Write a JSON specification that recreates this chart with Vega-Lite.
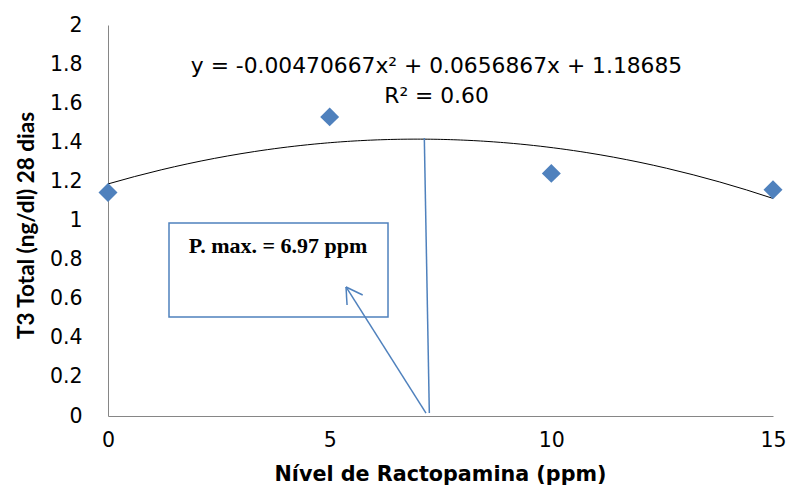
{
  "$schema": "https://vega.github.io/schema/vega-lite/v6.json",
  "width": 665,
  "height": 391,
  "autosize": {"type": "none"},
  "padding": {"left": 108, "top": 25, "right": 17, "bottom": 76},
  "background": "white",
  "config": {"view": {"stroke": null}, "axis": {"labelOverlap": false, "labelBound": false}},
  "datasets": {
    "points": [
      {"x": 0, "y": 1.143},
      {"x": 5, "y": 1.53},
      {"x": 10, "y": 1.241},
      {"x": 15, "y": 1.157}
    ],
    "segments": [
      {"x": 7.135, "y": 1.422, "x2": 7.248, "y2": 0.015},
      {"x": 7.173, "y": 0.015, "x2": 5.369, "y2": 0.66},
      {"x": 5.369, "y": 0.66, "x2": 5.392, "y2": 0.568},
      {"x": 5.369, "y": 0.66, "x2": 5.745, "y2": 0.619}
    ],
    "box": [
      {"x": 1.376, "x2": 6.316, "y": 0.987, "y2": 0.506}
    ],
    "labels": [
      {"x": 7.41, "y": 1.79, "label": "y = -0.00470667x² + 0.0656867x + 1.18685"},
      {"x": 7.41, "y": 1.637, "label": "R² = 0.60"}
    ],
    "boxlabel": [
      {"x": 3.835, "y": 0.87, "label": "P. max. = 6.97 ppm"}
    ]
  },
  "layer": [
    {
      "data": {"name": "box"},
      "mark": {"type": "rect", "fill": "white", "stroke": "#4F81BD", "strokeWidth": 1.5},
      "encoding": {
        "x": {
          "field": "x", "type": "quantitative",
          "scale": {"domain": [0, 15], "nice": false},
          "axis": {
            "values": [0, 5, 10, 15],
            "tickCount": 20,
            "grid": false, "ticks": false,
            "domainColor": "#868686", "domainWidth": 1,
            "labelFont": "DejaVu Sans", "labelFontSize": 20.5, "labelColor": "#000",
            "labelPadding": 14, "labelFlush": false, "labelOverlap": false,
            "title": "Nível de Ractopamina (ppm)",
            "titleFont": "DejaVu Sans", "titleFontSize": 20.7, "titleFontWeight": "bold", "titleColor": "#000",
            "titleX": 332, "titleY": 58, "titleBaseline": "middle", "titleAlign": "center"
          }
        },
        "x2": {"field": "x2"},
        "y": {
          "field": "y", "type": "quantitative",
          "scale": {"domain": [0, 2], "nice": false},
          "axis": {
            "values": [0, 0.2, 0.4, 0.6, 0.8, 1, 1.2, 1.4, 1.6, 1.8, 2],
            "tickCount": 20,
            "format": "~g",
            "grid": false, "ticks": false,
            "domainColor": "#868686", "domainWidth": 1,
            "labelFont": "DejaVu Sans", "labelFontSize": 20.5, "labelColor": "#000",
            "labelPadding": 26, "labelFlush": false, "labelOverlap": false,
            "title": "T3 Total (ng/dl) 28 dias",
            "titleFont": "Lato", "titleFontSize": 22.5, "titleFontWeight": "bold", "titleColor": "#000",
            "titleX": -82, "titleY": 200, "titleAngle": -90, "titleBaseline": "middle", "titleAlign": "center"
          }
        },
        "y2": {"field": "y2"}
      }
    },
    {
      "data": {"name": "points"},
      "transform": [
        {"regression": "y", "on": "x", "method": "poly", "order": 2, "extent": [0, 15]}
      ],
      "mark": {"type": "line", "color": "black", "strokeWidth": 1},
      "encoding": {
        "x": {"field": "x", "type": "quantitative"},
        "y": {"field": "y", "type": "quantitative"}
      }
    },
    {
      "data": {"name": "segments"},
      "mark": {"type": "rule", "color": "#4F81BD", "strokeWidth": 1.5},
      "encoding": {
        "x": {"field": "x", "type": "quantitative"},
        "y": {"field": "y", "type": "quantitative"},
        "x2": {"field": "x2"},
        "y2": {"field": "y2"}
      }
    },
    {
      "data": {"name": "points"},
      "mark": {"type": "point", "shape": "diamond", "filled": true, "color": "#4F81BD", "size": 360, "opacity": 1},
      "encoding": {
        "x": {"field": "x", "type": "quantitative"},
        "y": {"field": "y", "type": "quantitative"}
      }
    },
    {
      "data": {"name": "labels"},
      "mark": {"type": "text", "font": "DejaVu Sans", "fontSize": 21.8, "color": "#000", "align": "center", "baseline": "middle"},
      "encoding": {
        "x": {"field": "x", "type": "quantitative"},
        "y": {"field": "y", "type": "quantitative"},
        "text": {"field": "label"}
      }
    },
    {
      "data": {"name": "boxlabel"},
      "mark": {"type": "text", "font": "Liberation Serif", "fontSize": 22, "fontWeight": "bold", "color": "#000", "align": "center", "baseline": "middle"},
      "encoding": {
        "x": {"field": "x", "type": "quantitative"},
        "y": {"field": "y", "type": "quantitative"},
        "text": {"field": "label"}
      }
    }
  ]
}
